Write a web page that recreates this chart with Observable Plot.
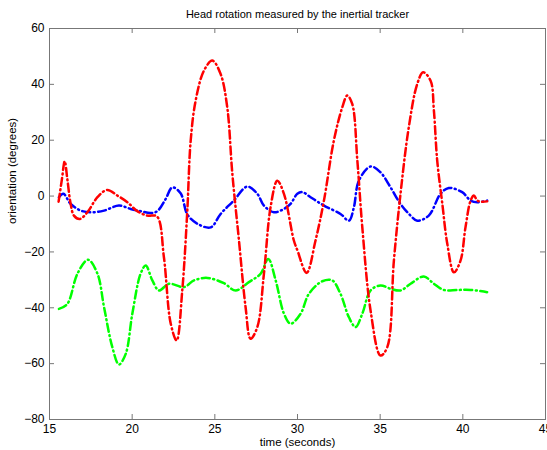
<!DOCTYPE html>
<html>
<head>
<meta charset="utf-8">
<script src="https://cdn.jsdelivr.net/npm/d3@7"></script>
<script src="https://cdn.jsdelivr.net/npm/@observablehq/plot@0.6"></script>
<style>
  html, body { margin: 0; padding: 0; background: #fff; }
</style>
</head>
<body>
<div id="chart"></div>
<script>
const titleText = "Head rotation measured by the inertial tracker";
const xLabel = "time (seconds)";
const yLabel = "orientation (degrees)";
const xTicks = [15, 20, 25, 30, 35, 40, 45];
const yTicks = [-80, -60, -40, -20, 0, 20, 40, 60];

const redT = [15.55, 15.75, 15.92, 16.08, 16.28, 16.48, 16.84, 17.29, 17.9, 18.5, 19.1, 19.71, 20.31, 20.92, 21.5, 21.92, 22.33, 22.69, 23.03, 23.33, 23.54, 23.84, 24.34, 24.85, 25.35, 25.75, 26.06, 26.46, 26.86, 27.16, 27.57, 27.97, 28.37, 28.78, 29.18, 29.78, 30.0, 30.55, 31.09, 31.6, 32.2, 32.71, 33.01, 33.31, 33.62, 33.92, 34.42, 35.02, 35.43, 35.83, 36.23, 36.73, 37.24, 37.6, 38.05, 38.25, 38.45, 38.76, 39.06, 39.46, 39.86, 40.16, 40.47, 40.67, 40.87, 41.1, 41.47];
const redV = [-2, 6, 12.5, 6, -2.8, -7, -8.2, -5.8, -0.4, 2.2, 0.2, -2.2, -5.4, -7, -7.3, -21.9, -45.6, -51.7, -33.8, -5.8, 19.9, 34.2, 44.9, 48.5, 43.7, 31.8, 7.9, -15.9, -39.8, -51.1, -46.9, -27.8, -4, 5.5, 0.8, -15.9, -19.5, -27.5, -15.9, -1.6, 19.9, 31.8, 36, 33, 12.7, -11.2, -41, -57.1, -54.1, -23.1, 0.8, 24.6, 40.1, 44.3, 41.3, 30.6, 12.7, -2.8, -17.1, -27.3, -23.1, -11.2, -1.6, 0.2, -1.6, -2.0, -1.9];

const blueT = [15.57, 15.84, 16.28, 16.89, 17.59, 18.3, 19.2, 19.91, 20.51, 21.12, 21.52, 22.03, 22.43, 22.93, 23.34, 23.94, 24.75, 25.35, 26.15, 26.96, 27.57, 27.97, 28.57, 29.18, 29.58, 29.99, 30.3, 30.79, 31.6, 32.6, 33.11, 33.41, 33.71, 34.42, 35.02, 35.63, 36.23, 36.84, 37.24, 37.94, 38.65, 39.15, 39.96, 40.47, 40.87, 41.47];
const blueV = [-0.4, 0.8, -2.8, -5.2, -5.8, -5.2, -3.4, -4.6, -5.4, -6.1, -5.4, -1, 3.1, 1.0, -6.6, -9.9, -11.2, -6.4, -1.6, 3.4, 0.8, -3.4, -5.8, -4.6, -2.8, 0.8, 1.4, -0.4, -3.4, -6.4, -8.8, -4, 5.5, 10.6, 8.5, 3.1, -2.8, -7, -8.8, -7, 0.8, 2.9, 1.4, -1.6, -2.2, -1.6];

const greenT = [15.57, 16.08, 16.69, 17.33, 17.9, 18.3, 18.8, 19.2, 19.61, 20.01, 20.51, 20.82, 21.22, 21.62, 22.23, 23.13, 23.74, 24.55, 25.55, 26.26, 27.06, 27.77, 28.23, 28.68, 29.18, 29.58, 30.19, 30.69, 31.5, 32.1, 32.6, 33.11, 33.51, 33.92, 34.42, 35.02, 35.63, 36.23, 36.84, 37.64, 38.25, 38.85, 39.66, 40.47, 41.47];
const greenV = [-40.4, -38.6, -27.8, -22.8, -27.8, -39.8, -54.1, -60.3, -56.5, -42.1, -27.8, -24.9, -30.2, -33.8, -31.4, -32.6, -30.2, -29.3, -31.2, -33.8, -30.8, -27.8, -22.5, -30.2, -42.1, -45.7, -42.1, -35, -30.5, -30.2, -35, -43.4, -46.9, -42.1, -33.8, -32, -33.2, -33.8, -31.4, -28.8, -31.4, -33.6, -33.6, -33.6, -34.4];

const series = [
  {name: "green", t: greenT, v: greenV, color: "#00ff00"},
  {name: "blue", t: blueT, v: blueV, color: "#0000ff"},
  {name: "red", t: redT, v: redV, color: "#ff0000"}
];

const W = 547, H = 450;
const mL = 49, mR = 2, mT = 28, mB = 31;
const fw = W - mL - mR, fh = H - mT - mB;
const tick = 5;
const axisColor = "#777";
const font = "'Liberation Sans', Arial, Helvetica, sans-serif";

const lineMarks = series.map(s => Plot.line(
  s.t.map((t, i) => ({t, v: s.v[i]})),
  {x: "t", y: "v", stroke: s.color, strokeWidth: 2.5, strokeDasharray: "8,3.5,1,3.5", curve: "catmull-rom"}
));

const chart = Plot.plot({
  width: W,
  height: H,
  marginLeft: mL,
  marginRight: mR,
  marginTop: mT,
  marginBottom: mB,
  style: {fontFamily: font, fontSize: "12px", color: "#000", background: "#fff", overflow: "visible"},
  x: {domain: [15, 45], ticks: xTicks, label: null},
  y: {domain: [-80, 60], ticks: yTicks, label: null},
  marks: [
    Plot.frame({stroke: axisColor}),
    Plot.tickX(xTicks, {x: d => d, stroke: axisColor, insetTop: fh - tick}),
    Plot.tickX(xTicks, {x: d => d, stroke: axisColor, insetBottom: fh - tick}),
    Plot.tickY(yTicks, {y: d => d, stroke: axisColor, insetRight: fw - tick}),
    Plot.tickY(yTicks, {y: d => d, stroke: axisColor, insetLeft: fw - tick}),
    Plot.axisX({ticks: xTicks, tickSize: 0, tickPadding: 5, label: null, fontSize: 12, fill: "#000"}),
    Plot.axisY({ticks: yTicks, tickSize: 0, tickPadding: 5, label: null, fontSize: 12, fill: "#000"}),
    ...lineMarks,
    Plot.text([titleText], {frameAnchor: "top", lineAnchor: "middle", dy: -14, fontSize: 11, fill: "#000"}),
    Plot.text([xLabel], {frameAnchor: "bottom", lineAnchor: "top", dy: 18, fontSize: 11.5, fill: "#000"}),
    Plot.text([yLabel], {frameAnchor: "left", dx: -37, rotate: -90, fontSize: 11.5, fill: "#000"})
  ]
});

document.getElementById("chart").appendChild(chart);
</script>
</body>
</html>
